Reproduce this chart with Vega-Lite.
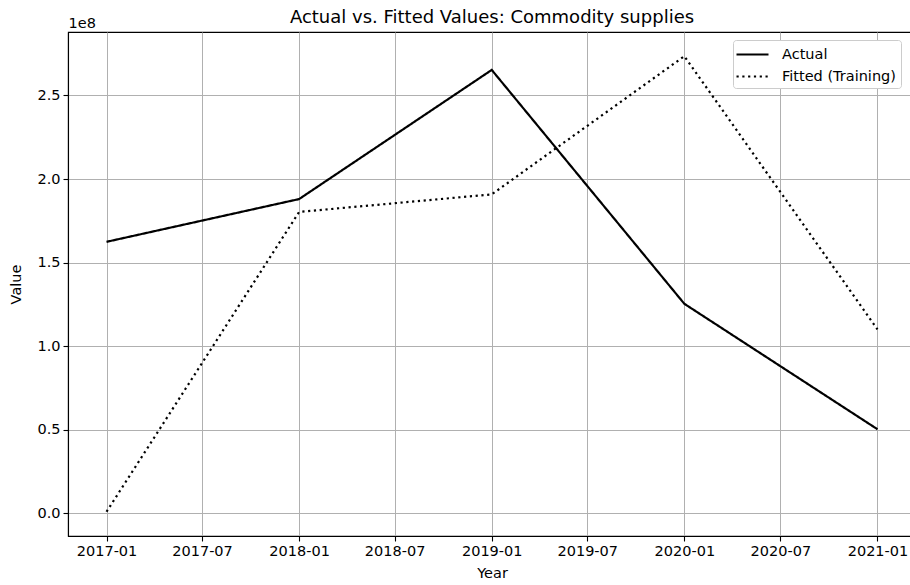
{
  "$schema": "https://vega.github.io/schema/vega-lite/v6.json",
  "autosize": "none",
  "width": 848,
  "height": 504,
  "padding": {"left": 68, "top": 32, "right": 0, "bottom": 49},
  "background": "white",
  "title": {"text": "Actual vs. Fitted Values: Commodity supplies", "fontSize": 18, "font": "DejaVu Sans", "fontWeight": "normal", "color": "#000", "anchor": "middle", "offset": 7, "dy": 19},
  "data": {"values": [
    {"date": "2017-01-01", "series": "Actual", "value": 162400000},
    {"date": "2018-01-01", "series": "Actual", "value": 188000000},
    {"date": "2019-01-01", "series": "Actual", "value": 265300000},
    {"date": "2020-01-01", "series": "Actual", "value": 125300000},
    {"date": "2021-01-01", "series": "Actual", "value": 50200000},
    {"date": "2017-01-01", "series": "Fitted (Training)", "value": 800000},
    {"date": "2018-01-01", "series": "Fitted (Training)", "value": 180300000},
    {"date": "2019-01-01", "series": "Fitted (Training)", "value": 190800000},
    {"date": "2020-01-01", "series": "Fitted (Training)", "value": 273500000},
    {"date": "2021-01-01", "series": "Fitted (Training)", "value": 110000000}
  ]},
  "encoding": {
    "y": {"field": "value", "type": "quantitative",
      "scale": {"domain": [-13700000, 288000000], "nice": false, "zero": false},
      "axis": {"values": [0, 50000000, 100000000, 150000000, 200000000, 250000000], "labelExpr": "format(datum.value/1e8, '.1f')", "title": "Value", "titlePadding": 13}},
    "strokeDash": {"field": "series", "type": "nominal",
      "scale": {"domain": ["Actual", "Fitted (Training)"], "range": [[1, 0], [2.2, 3.6]]},
      "legend": {"title": null, "orient": "none", "legendX": 665, "legendY": 8, "symbolType": "M-2,0L2,0", "symbolStrokeColor": "#000", "symbolFillColor": "transparent", "symbolStrokeWidth": 2.2, "symbolSize": 256, "symbolOffset": 5, "labelFontSize": 14.5, "labelFont": "DejaVu Sans", "labelColor": "#000", "padding": 5, "fillColor": "white", "strokeColor": "#cccccc", "cornerRadius": 3, "rowPadding": 6, "labelOffset": 20}}
  },
  "layer": [
    {
      "transform": [{"filter": "datum.series === 'Actual'"}],
      "mark": {"type": "line", "color": "#000", "strokeWidth": 2.2, "strokeCap": "butt"},
      "encoding": {
        "x": {"field": "date", "type": "temporal",
          "scale": {"type": "utc", "domain": [{"year": 2016, "month": 10, "date": 20, "utc": true}, {"year": 2021, "month": 3, "date": 15, "utc": true}], "nice": false},
          "axis": {"orient": "bottom", "format": "%Y-%m", "tickCount": {"interval": "month", "step": 6}, "title": "Year", "titlePadding": 9, "labelFlush": false}}
      }
    },
    {
      "transform": [{"filter": "datum.series !== 'Actual'"}],
      "mark": {"type": "line", "color": "#000", "strokeWidth": 2.2, "strokeCap": "butt"},
      "encoding": {
        "x": {"field": "date", "type": "temporal",
          "axis": {"orient": "top", "title": "1e8", "labels": false, "ticks": false, "domain": false, "grid": false, "titleAnchor": "start", "titleAlign": "left", "titleX": 0, "titleY": -5, "titleBaseline": "alphabetic"}}
      }
    }
  ],
  "resolve": {"axis": {"x": "independent"}},
  "config": {
    "view": {"stroke": "#000", "strokeWidth": 1.1},
    "axis": {"labelFont": "DejaVu Sans", "titleFont": "DejaVu Sans", "labelFontSize": 14.5, "titleFontSize": 14.5, "titleFontWeight": "normal", "labelColor": "#000", "titleColor": "#000", "domainColor": "#000", "domainWidth": 1.1, "tickColor": "#000", "tickSize": 5, "tickWidth": 1.1, "gridColor": "#b0b0b0", "gridWidth": 1, "labelPadding": 3, "grid": true}
  }
}
